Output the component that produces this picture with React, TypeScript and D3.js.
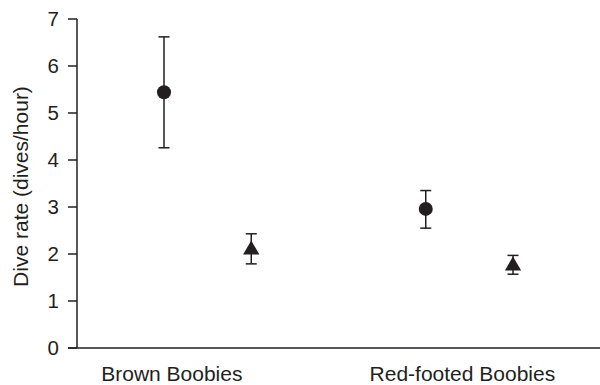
import React from "react";
import * as d3 from "d3";

const categories = ["Brown Boobies", "Red-footed Boobies"];
const categoryPos = [0.09, 3.42];
const yTicks = [0, 1, 2, 3, 4, 5, 6, 7];
const markerShapes = ["circle", "triangle", "circle", "triangle"];
const pointPos = [0, 1, 3, 4];
const means = [5.44, 2.12, 2.96, 1.78];
const upper = [6.62, 2.43, 3.35, 1.97];
const lower = [4.26, 1.79, 2.55, 1.57];
const yTitle = "Dive rate (dives/hour)";

const W = 600;
const H = 385;
const ink = "#231f20";
const font = "'Liberation Sans', Arial, Helvetica, sans-serif";

export default function App() {
  const y = d3.scaleLinear().domain([0, 7]).range([348, 19]);
  const x = d3.scaleLinear().domain([0, 4]).range([164, 513]);
  const axisX = 77;
  const tri = d3.symbol().type(d3.symbolTriangle).size(115);
  const circ = d3.symbol().type(d3.symbolCircle).size(Math.PI * 7 * 7);

  return (
    <svg
      width={W}
      height={H}
      style={{ position: "absolute", left: 0, top: 0, background: "#fff" }}
      fontFamily={font}
    >
      {/* y axis */}
      <line x1={axisX} x2={axisX} y1={y(7)} y2={y(0)} stroke={ink} strokeWidth={1.5} />
      {yTicks.map((t) => (
        <g key={t}>
          <line x1={axisX - 9} x2={axisX} y1={y(t)} y2={y(t)} stroke={ink} strokeWidth={1.5} />
          <text
            x={axisX - 18}
            y={y(t)}
            dy="0.35em"
            textAnchor="end"
            fontSize={20.5}
            fill={ink}
          >
            {t}
          </text>
        </g>
      ))}
      {/* x axis */}
      <line x1={axisX - 9} x2={W} y1={y(0)} y2={y(0)} stroke={ink} strokeWidth={1.5} />
      {categories.map((c, i) => (
        <text
          key={c}
          x={x(categoryPos[i])}
          y={381}
          textAnchor="middle"
          fontSize={21}
          fill={ink}
        >
          {c}
        </text>
      ))}
      <text
        transform={`translate(28, ${(85 + 288) / 2}) rotate(-90)`}
        textAnchor="middle"
        fontSize={21}
        fill={ink}
      >
        {yTitle}
      </text>
      {/* error bars and markers */}
      {means.map((m, i) => {
        const cx = x(pointPos[i]);
        const cap = 5.5;
        const isTri = markerShapes[i] === "triangle";
        return (
          <g key={i}>
            <line x1={cx} x2={cx} y1={y(upper[i])} y2={y(lower[i])} stroke={ink} strokeWidth={1.5} />
            <line x1={cx - cap} x2={cx + cap} y1={y(upper[i])} y2={y(upper[i])} stroke={ink} strokeWidth={1.5} />
            <line x1={cx - cap} x2={cx + cap} y1={y(lower[i])} y2={y(lower[i])} stroke={ink} strokeWidth={1.5} />
            <path
              d={(isTri ? tri : circ)() as string}
              transform={`translate(${cx}, ${y(m) + (isTri ? 1.5 : 0)})`}
              fill={ink}
            />
          </g>
        );
      })}
    </svg>
  );
}
